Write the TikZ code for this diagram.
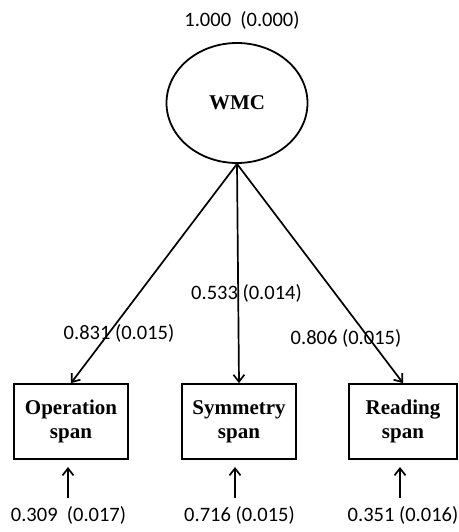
\documentclass[tikz,border=0pt]{standalone}
\usepackage{fontspec}
\setmainfont{Liberation Serif}
\newfontfamily\numfont{Carlito}
\usetikzlibrary{arrows.meta,shapes.geometric}
\begin{document}
\begin{tikzpicture}[x=1pt,y=-1pt,
  lat/.style={ellipse,draw,line width=1.8pt,minimum width=141pt,minimum height=120pt,inner sep=0pt,font=\fontsize{21}{24}\selectfont\bfseries},
  obs/.style={rectangle,draw,line width=1.8pt,minimum width=114pt,minimum height=75pt,inner sep=0pt,align=center,font=\fontsize{21}{24}\selectfont\bfseries},
  num/.style={inner sep=0pt,font=\numfont\fontsize{20.5}{24}\selectfont},
  arr/.style={line width=1.7pt,-{Straight Barb[length=7pt,width=11pt,line width=1.7pt]}}]
\useasboundingbox (0,0) rectangle (458,532);
\node[num] (tl) at (242,20) {1.000\ \ (0.000)};
\node[lat] (wmc) at (237,103) {WMC};
\node[obs] (op) at (71,421.5) {Operation\\span};
\node[obs] (sym) at (239,421.5) {Symmetry\\span};
\node[obs,minimum width=108pt] (rd) at (403,421.5) {Reading\\span};
\draw[arr] (wmc.south) -- (op.north);
\draw[arr] (wmc.south) -- (sym.north);
\draw[arr] (wmc.south) -- (rd.north);
\node[num] (l1) at (119,333) {0.831 (0.015)};
\node[num] (l2) at (246.5,293) {0.533 (0.014)};
\node[num] (l3) at (346,338) {0.806 (0.015)};
\node[num] (b1) at (68.5,515) {0.309\ \ (0.017)};
\node[num] (b2) at (239.5,515) {0.716 (0.015)};
\node[num] (b3) at (403,515) {0.351 (0.016)};
\coordinate (s1) at (68,498); \coordinate (e1) at (68,467);
\coordinate (s2) at (235,498); \coordinate (e2) at (235,467);
\coordinate (s3) at (400,498); \coordinate (e3) at (400,467);
\draw[arr] (s1) -- (e1);
\draw[arr] (s2) -- (e2);
\draw[arr] (s3) -- (e3);
\end{tikzpicture}
\end{document}
